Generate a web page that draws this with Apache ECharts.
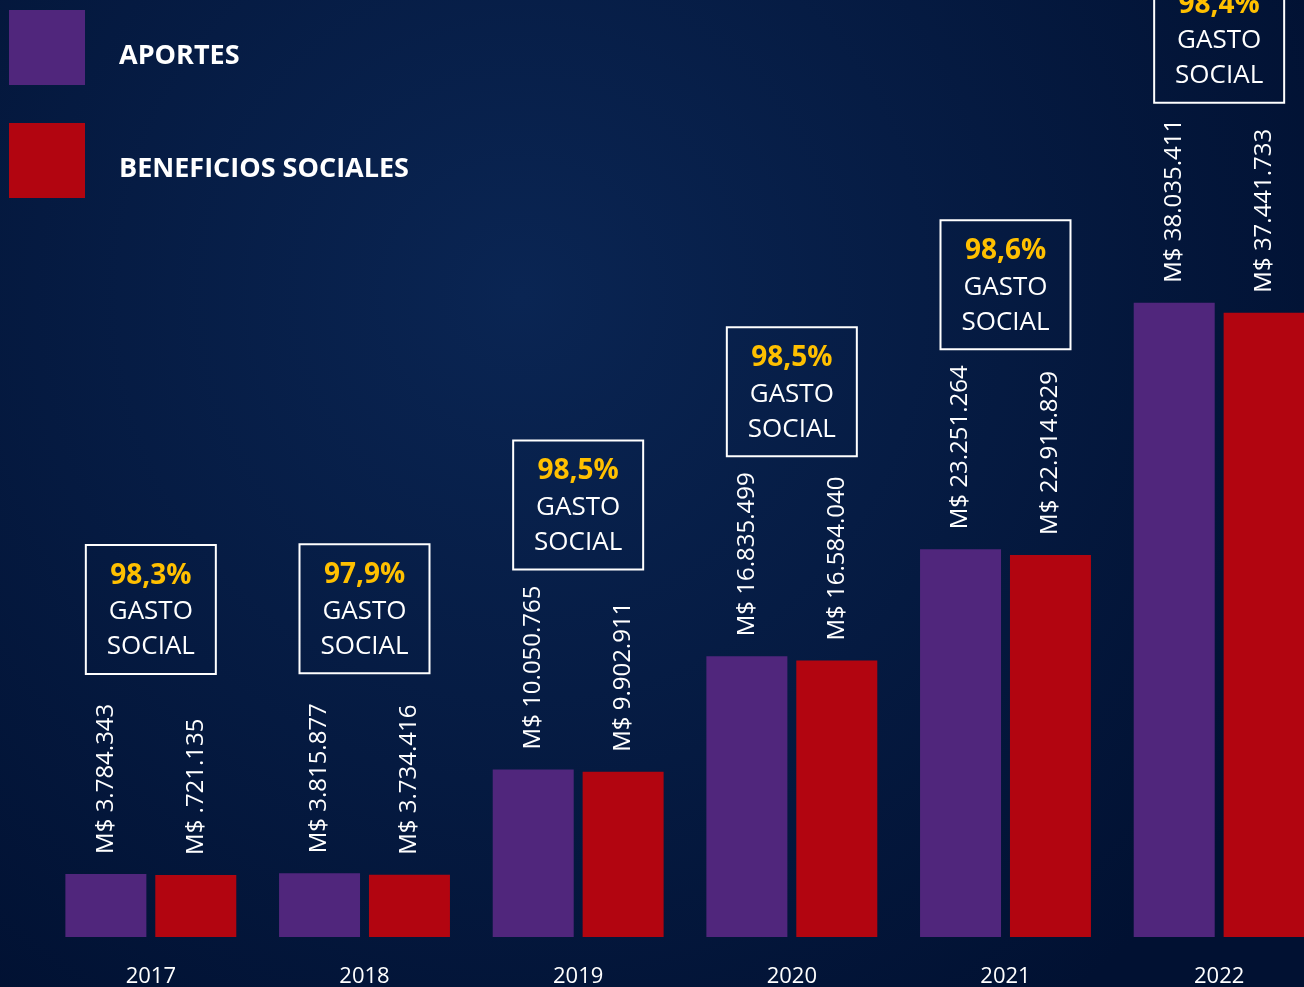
<!DOCTYPE html>
<html>
<head>
<meta charset="utf-8">
<script src="https://cdn.jsdelivr.net/npm/echarts@6/dist/echarts.min.js"></script>
<style>
  html, body { margin: 0; padding: 0; background: #021338; }
  #chart { width: 1304px; height: 987px; }
</style>
</head>
<body>
<div id="chart"></div>
<script>
const years = ['2017', '2018', '2019', '2020', '2021', '2022'];
const aportes = [3784343, 3815877, 10050765, 16835499, 23251264, 38035411];
const beneficios = [3721135, 3734416, 9902911, 16584040, 22914829, 37441733];
const aportesLabels = ['M$ 3.784.343', 'M$ 3.815.877', 'M$ 10.050.765', 'M$ 16.835.499', 'M$ 23.251.264', 'M$ 38.035.411'];
const beneficiosLabels = ['M$ .721.135', 'M$ 3.734.416', 'M$ 9.902.911', 'M$ 16.584.040', 'M$ 22.914.829', 'M$ 37.441.733'];
const gastoSocial = ['98,3%', '97,9%', '98,5%', '98,5%', '98,6%', '98,4%'];

const font = '"Open Sans", "Noto Sans", sans-serif';
const chart = echarts.init(document.getElementById('chart'));

const valueLabel = (names) => ({
    show: true,
    position: 'top',
    rotate: 90,
    align: 'left',
    verticalAlign: 'middle',
    distance: 20,
    color: '#ffffff',
    fontFamily: font,
    fontSize: 24,
    formatter: (p) => names[p.dataIndex]
});

chart.setOption({
    backgroundColor: {
        type: 'radial', x: 0.4, y: 0.3, r: 0.9,
        colorStops: [
            { offset: 0, color: '#0a2553' },
            { offset: 1, color: '#011132' }
        ]
    },
    animation: false,
    legend: {
        orient: 'vertical',
        left: 4,
        top: 5,
        itemWidth: 76,
        itemHeight: 75,
        itemGap: 38,
        icon: 'rect',
        data: ['APORTES', 'BENEFICIOS SOCIALES'],
        formatter: '{t|{name}}',
        textStyle: {
            color: '#ffffff',
            fontFamily: font,
            fontWeight: 'bold',
            fontSize: 27,
            padding: [0, 0, 0, 29],
            rich: {
                t: {
                    color: '#ffffff',
                    fontFamily: font,
                    fontWeight: 'bold',
                    fontSize: 27,
                    padding: [18, 0, 0, 0]
                }
            }
        }
    },
    grid: { left: 44, right: -22, top: 270, bottom: 50, outerBoundsMode: 'none', containLabel: false },
    xAxis: {
        type: 'category',
        data: years,
        axisLine: { show: false },
        axisTick: { show: false },
        axisLabel: { color: '#ffffff', fontFamily: font, fontSize: 22, margin: 29 }
    },
    yAxis: {
        type: 'value',
        min: 0,
        max: 40000000,
        show: false,
        splitLine: { show: false }
    },
    series: [
        {
            name: 'APORTES',
            type: 'bar',
            data: aportes,
            barWidth: 81,
            barGap: '11%',
            itemStyle: { color: '#50267c' },
            label: valueLabel(aportesLabels)
        },
        {
            name: 'BENEFICIOS SOCIALES',
            type: 'bar',
            data: beneficios,
            barWidth: 81,
            itemStyle: { color: '#b20510' },
            label: valueLabel(beneficiosLabels)
        },
        {
            name: 'gasto',
            type: 'custom',
            data: gastoSocial.map((g, i) => [i, Math.max(aportes[i], beneficios[i])]),
            renderItem: (params, api) => {
                const i = api.value(0);
                const p = api.coord([i, api.value(1)]);
                const w = 130, h = 129;
                const bottom = p[1] - 200;
                const x0 = p[0] - w / 2;
                const y0 = bottom - h;
                return {
                    type: 'group',
                    children: [
                        { type: 'rect', shape: { x: x0, y: y0, width: w, height: h },
                          style: { fill: 'rgba(0,0,0,0)', stroke: '#ffffff', lineWidth: 2 } },
                        { type: 'text', style: { x: p[0], y: y0 + 31, text: gastoSocial[i], fill: '#ffc000',
                          font: 'bold 28px ' + font, align: 'center', verticalAlign: 'middle' } },
                        { type: 'text', style: { x: p[0], y: y0 + 67, text: 'GASTO', fill: '#ffffff',
                          font: '26px ' + font, align: 'center', verticalAlign: 'middle' } },
                        { type: 'text', style: { x: p[0], y: y0 + 102, text: 'SOCIAL', fill: '#ffffff',
                          font: '26px ' + font, align: 'center', verticalAlign: 'middle' } }
                    ]
                };
            },
            clip: false,
            z: 5
        }
    ]
});
</script>
</body>
</html>
